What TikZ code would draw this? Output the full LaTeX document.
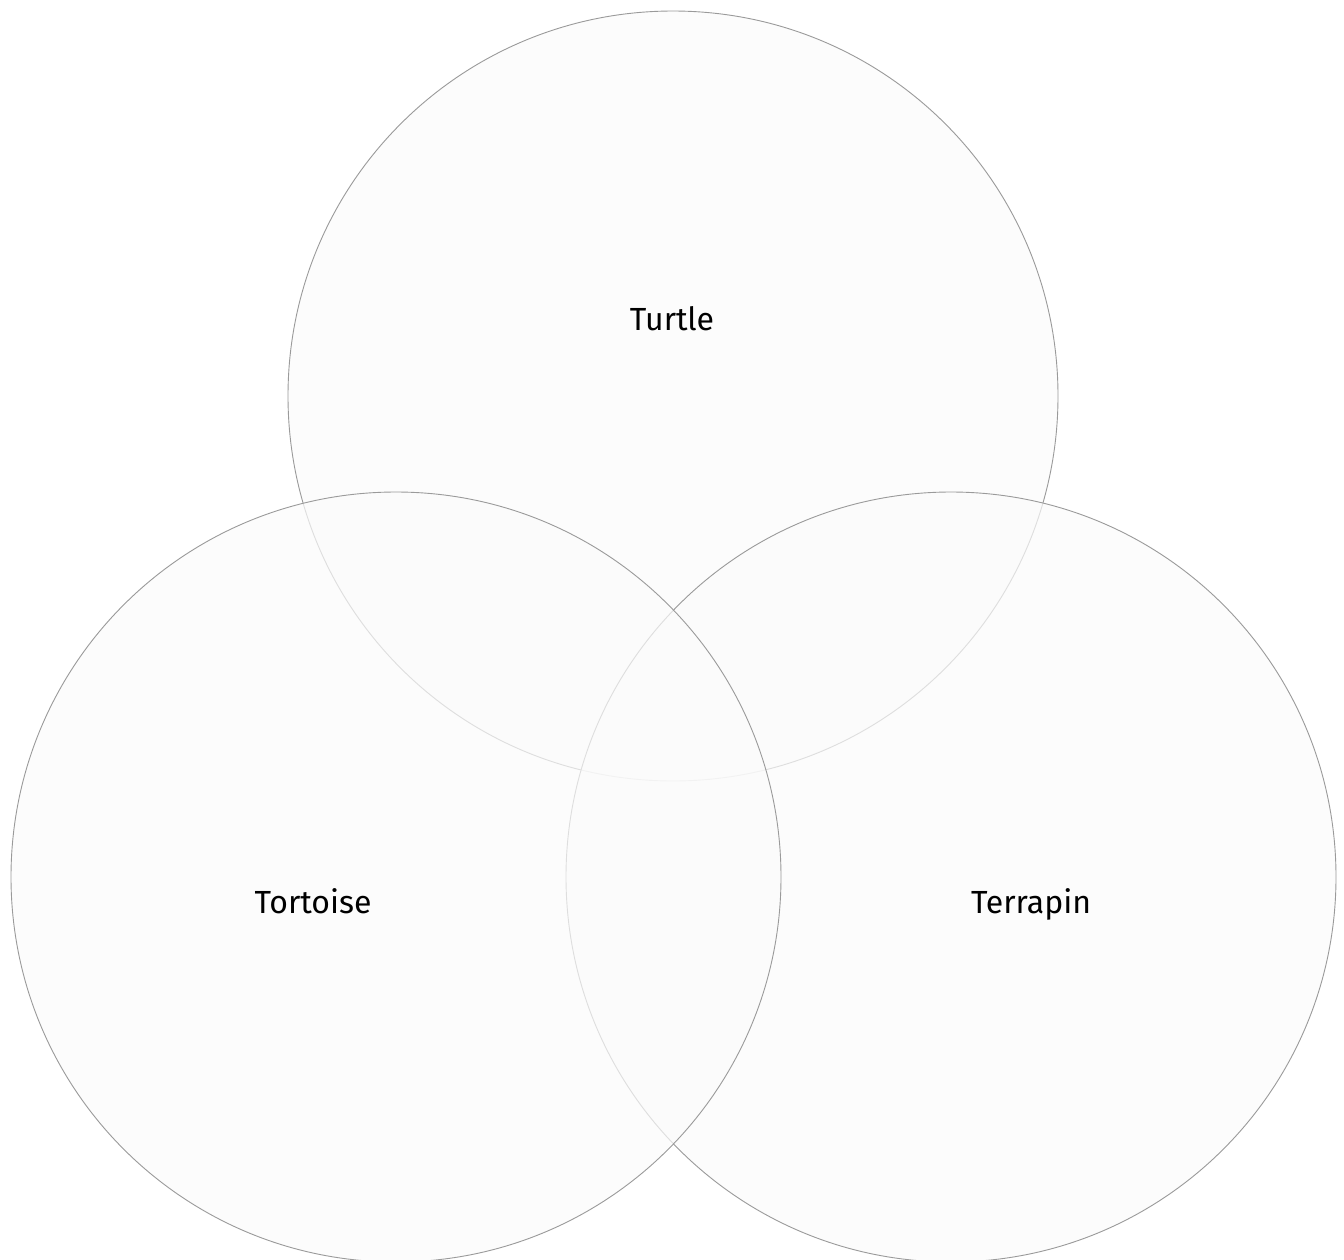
\documentclass[tikz,border=0pt]{standalone}
\usepackage{fontspec}
\setmainfont{Fira Sans}
\definecolor{setfill}{HTML}{FBFBFB}
\definecolor{setline}{HTML}{9A9A9A}
\tikzset{
    setcircle/.style={draw=setline, line width=0.9pt, fill=setfill, fill opacity=0.7},
    setlabel/.style={font=\fontsize{32}{38}\selectfont, text=black, anchor=base, inner sep=0pt}
}

\begin{document}
\begin{tikzpicture}[x=1pt,y=-1pt]

    % Page
    \useasboundingbox (0,0) rectangle (1344,1259);
    \fill[white] (0,0) rectangle (1344,1259);

    % Turtle
    \draw[setcircle] (673,396) circle[radius=385pt];

    % Terrapin
    \draw[setcircle] (951,877) circle[radius=385pt];

    % Tortoise
    \draw[setcircle] (396,877) circle[radius=385pt];

    % Labels
    \node[setlabel] (turtle) at (672,330) {Turtle};
    \node[setlabel] (tortoise) at (313,913) {Tortoise};
    \node[setlabel] (terrapin) at (1031,913) {Terrapin};

\end{tikzpicture}
\end{document}
